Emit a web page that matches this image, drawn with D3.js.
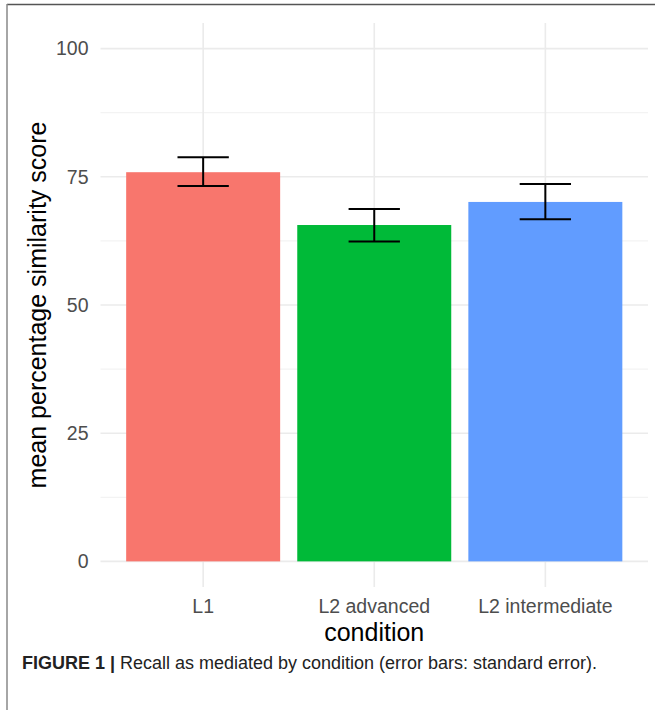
<!DOCTYPE html>
<html>
<head>
<meta charset="utf-8">
<script src="https://cdn.jsdelivr.net/npm/d3@7"></script>
<style>
  body { margin: 0; background: #fff; }
  svg { display: block; }
</style>
</head>
<body>
<svg id="chart" width="655" height="710"></svg>
<script>
// condition means with standard error
var conditions = ["L1", "L2 advanced", "L2 intermediate"]
var means = [75.9, 65.6, 70.1]
var errLow = [73.2, 62.4, 66.7]
var errHigh = [78.8, 68.7, 73.6]
var barColors = ["#F8766D", "#00BA38", "#619CFF"]
var yTicks = [0, 25, 50, 75, 100]
var yMinor = [12.5, 37.5, 62.5, 87.5]

var svg = d3.select("#chart")

// panel edges
var panelL = 100.5, panelR = 648, panelT = 23, panelB = 587

var x = d3.scaleBand()
    .domain(conditions)
    .range([panelL, panelR])
    .paddingInner(0.1)
    .paddingOuter(0.15)

var y = d3.scaleLinear()
    .domain([-5, 105])
    .range([panelB, panelT])

// frame of the figure
svg.append("line")
    .attr("x1", 7).attr("x2", 655).attr("y1", 4.5).attr("y2", 4.5)
    .attr("stroke", "#555").attr("stroke-width", 1.5)
svg.append("line")
    .attr("x1", 7).attr("x2", 7).attr("y1", 4).attr("y2", 710)
    .attr("stroke", "#888").attr("stroke-width", 1.5)

// grid
svg.selectAll(".minor").data(yMinor).enter().append("line")
    .attr("x1", panelL).attr("x2", panelR)
    .attr("y1", d => y(d)).attr("y2", d => y(d))
    .attr("stroke", "#f0f0f0").attr("stroke-width", 1)

svg.selectAll(".major").data(yTicks).enter().append("line")
    .attr("x1", panelL).attr("x2", panelR)
    .attr("y1", d => y(d)).attr("y2", d => y(d))
    .attr("stroke", "#ebebeb").attr("stroke-width", 1.6)

svg.selectAll(".vgrid").data(conditions).enter().append("line")
    .attr("x1", d => x(d) + x.bandwidth() / 2).attr("x2", d => x(d) + x.bandwidth() / 2)
    .attr("y1", panelT).attr("y2", panelB)
    .attr("stroke", "#ebebeb").attr("stroke-width", 1.6)

// bars
svg.selectAll(".bar").data(conditions).enter().append("rect")
    .attr("x", d => x(d))
    .attr("width", x.bandwidth())
    .attr("y", (d, i) => y(means[i]))
    .attr("height", (d, i) => y(0) - y(means[i]))
    .attr("fill", (d, i) => barColors[i])

// error bars
var capW = x.step() * 0.3
conditions.forEach(function(c, i) {
    var cx = x(c) + x.bandwidth() / 2
    var g = svg.append("g").attr("stroke", "#000").attr("stroke-width", 2)
    g.append("line").attr("x1", cx).attr("x2", cx).attr("y1", y(errLow[i])).attr("y2", y(errHigh[i]))
    g.append("line").attr("x1", cx - capW / 2).attr("x2", cx + capW / 2).attr("y1", y(errLow[i])).attr("y2", y(errLow[i]))
    g.append("line").attr("x1", cx - capW / 2).attr("x2", cx + capW / 2).attr("y1", y(errHigh[i])).attr("y2", y(errHigh[i]))
})

// axes (text only, like theme_minimal)
var font = "Liberation Sans, Arial, sans-serif"

var yAxis = svg.append("g")
    .attr("transform", "translate(" + (panelL - 12) + ",0)")
    .call(d3.axisLeft(y).tickValues(yTicks).tickSize(0).tickPadding(0))
yAxis.select(".domain").remove()
yAxis.selectAll("text")
    .attr("fill", "#4d4d4d").attr("font-size", 19.5).attr("font-family", font)

var xAxis = svg.append("g")
    .attr("transform", "translate(0," + (panelB + 6) + ")")
    .call(d3.axisBottom(x).tickSize(0).tickPadding(6))
xAxis.select(".domain").remove()
xAxis.selectAll("text")
    .attr("fill", "#4d4d4d").attr("font-size", 19.5).attr("font-family", font)

svg.append("text")
    .attr("x", (panelL + panelR) / 2).attr("y", 641)
    .attr("text-anchor", "middle")
    .attr("font-size", 25).attr("font-family", font).attr("fill", "#000")
    .text("condition")

svg.append("text")
    .attr("transform", "translate(46," + y(50) + ") rotate(-90)")
    .attr("text-anchor", "middle")
    .attr("font-size", 25).attr("font-family", font).attr("fill", "#000")
    .text("mean percentage similarity score")

// caption
var cap = svg.append("text")
    .attr("x", 22).attr("y", 669)
    .attr("font-size", 17.5).attr("font-family", font)
    .attr("fill", "#222")
    .attr("textLength", 575).attr("lengthAdjust", "spacingAndGlyphs")
cap.append("tspan").attr("font-weight", "bold").text("FIGURE 1 | ")
cap.append("tspan").text("Recall as mediated by condition (error bars: standard error).")
</script>
</body>
</html>
